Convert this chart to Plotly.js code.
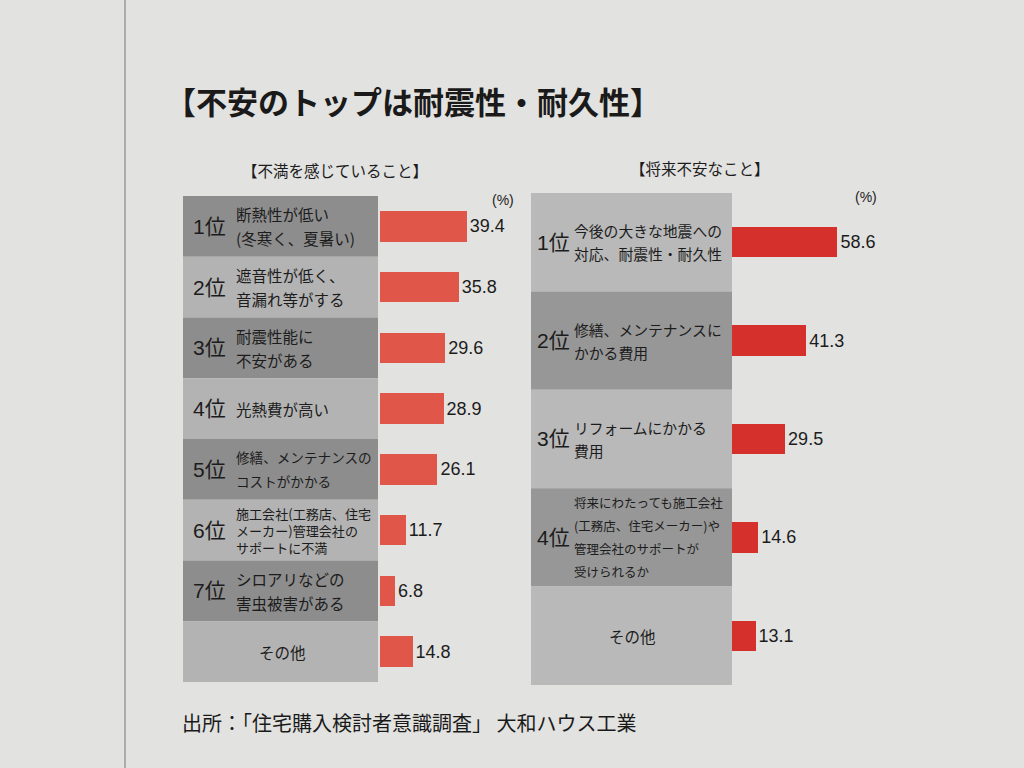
<!DOCTYPE html>
<html>
<head>
<meta charset="utf-8">
<script src="https://cdn.plot.ly/plotly-3.0.1.min.js"></script>
<style>html,body{margin:0;padding:0;background:#e2e2e0;}</style>
</head>
<body>
<div id="chart" style="width:1024px;height:768px;"></div>
<script>
// ---- data ----
const chartTitle = '【不安のトップは耐震性・耐久性】';
const leftTitle = '【不満を感じていること】';
const rightTitle = '【将来不安なこと】';
const unitLabel = '(%)';
const sourceText = '出所：「住宅購入検討者意識調査」 大和ハウス工業';

const leftRanks = ['1位', '2位', '3位', '4位', '5位', '6位', '7位', ''];
const leftItems = [
  ['断熱性が低い', '(冬寒く、夏暑い)'],
  ['遮音性が低く、', '音漏れ等がする'],
  ['耐震性能に', '不安がある'],
  ['光熱費が高い'],
  ['修繕、メンテナンスの', 'コストがかかる'],
  ['施工会社(工務店、住宅', 'メーカー)管理会社の', 'サポートに不満'],
  ['シロアリなどの', '害虫被害がある'],
  ['その他']
];
const leftValues = [39.4, 35.8, 29.6, 28.9, 26.1, 11.7, 6.8, 14.8];

const rightRanks = ['1位', '2位', '3位', '4位', ''];
const rightItems = [
  ['今後の大きな地震への', '対応、耐震性・耐久性'],
  ['修繕、メンテナンスに', 'かかる費用'],
  ['リフォームにかかる', '費用'],
  ['将来にわたっても施工会社', '(工務店、住宅メーカー)や', '管理会社のサポートが', '受けられるか'],
  ['その他']
];
const rightValues = [58.6, 41.3, 29.5, 14.6, 13.1];

// ---- helpers ----
const W = 1024, H = 768;
const px = v => v / W;
const py = v => 1 - v / H;
const CJK = '"Noto Sans CJK JP", sans-serif';
const NUM = '"Liberation Sans", "Noto Sans CJK JP", sans-serif';
const ink = '#1c1c1c';

// width of a text line in em (full-width = 1, ascii = 0.4)
const emLen = s => Array.from(s).reduce((a, ch) => a + (ch.charCodeAt(0) < 256 ? 0.4 : 1), 0);
const fitSize = (lines, base, avail) => Math.min(base, avail / Math.max(...lines.map(emLen)));

const leftCats = leftItems.map(a => a.join(''));
const rightCats = rightItems.map(a => a.join(''));

const traces = [
  {
    type: 'bar', orientation: 'h', x: leftValues, y: leftCats,
    xaxis: 'x', yaxis: 'y', width: 0.5,
    marker: {color: '#e0574a'},
    text: leftValues.map(v => v.toFixed(1)), textposition: 'outside',
    textfont: {family: NUM, size: 18, color: ink},
    constraintext: 'none', cliponaxis: false, hoverinfo: 'skip'
  },
  {
    type: 'bar', orientation: 'h', x: rightValues, y: rightCats,
    xaxis: 'x2', yaxis: 'y2', width: 0.31,
    marker: {color: '#d6302c'},
    text: rightValues.map(v => v.toFixed(1)), textposition: 'outside',
    textfont: {family: NUM, size: 18, color: ink},
    constraintext: 'none', cliponaxis: false, hoverinfo: 'skip'
  }
];

const shapes = [];
const annotations = [];

// left label column
leftCats.forEach((c, i) => {
  shapes.push({type: 'rect', layer: 'below', xref: 'paper', yref: 'y',
    x0: px(183), x1: px(378), y0: i - 0.5, y1: i + 0.5,
    fillcolor: i % 2 === 0 ? '#8d8d8d' : '#b3b3b3', line: {width: 0}});
  const lines = leftItems[i];
  if (leftRanks[i]) {
    annotations.push({xref: 'paper', yref: 'y', x: px(191), y: c, xanchor: 'left',
      text: leftRanks[i], showarrow: false, font: {family: NUM, size: 21, color: ink}});
    const size = fitSize(lines, 15.5, 136);
    if (lines.length > 2) {
      // tightly set block: one annotation, default line spacing
      annotations.push({xref: 'paper', yref: 'y', x: px(235), y: c, xanchor: 'left', align: 'left',
        borderpad: 0, text: lines.join('<br>'), showarrow: false,
        font: {family: CJK, size: size, color: ink}});
    } else {
      const sp = 24;
      lines.forEach((t, k) => {
        annotations.push({xref: 'paper', yref: 'y', x: px(235), y: c, xanchor: 'left',
          yshift: ((lines.length - 1) / 2 - k) * sp, borderpad: 0,
          text: t, showarrow: false, font: {family: CJK, size: size, color: ink}});
      });
    }
  } else {
    annotations.push({xref: 'paper', yref: 'y', x: px(282), y: c, xanchor: 'center',
      text: lines[0], showarrow: false, font: {family: CJK, size: 15.5, color: ink}});
  }
});

// right label column
rightCats.forEach((c, i) => {
  shapes.push({type: 'rect', layer: 'below', xref: 'paper', yref: 'y2',
    x0: px(531), x1: px(732), y0: i - 0.5, y1: i + 0.5,
    fillcolor: i % 2 === 0 ? '#b9b9b9' : '#979797', line: {width: 0}});
  const lines = rightItems[i];
  if (rightRanks[i]) {
    annotations.push({xref: 'paper', yref: 'y2', x: px(535), y: c, xanchor: 'left',
      text: rightRanks[i], showarrow: false, font: {family: NUM, size: 21, color: ink}});
    const size = fitSize(lines, 14.8, 150);
    const sp = 23;
    lines.forEach((t, k) => {
      annotations.push({xref: 'paper', yref: 'y2', x: px(573), y: c, xanchor: 'left',
        yshift: ((lines.length - 1) / 2 - k) * sp, borderpad: 0,
        text: t, showarrow: false, font: {family: CJK, size: size, color: ink}});
    });
  } else {
    annotations.push({xref: 'paper', yref: 'y2', x: px(632), y: c, xanchor: 'center',
      text: lines[0], showarrow: false, font: {family: CJK, size: 15.5, color: ink}});
  }
});

// page edge line
shapes.push({type: 'line', xref: 'paper', yref: 'paper', x0: px(125), x1: px(125), y0: 0, y1: 1,
  line: {color: '#9a9a9a', width: 1.5}});

// titles and notes
annotations.push(
  {xref: 'paper', yref: 'paper', x: px(163), y: py(100), xanchor: 'left', yanchor: 'middle',
    text: chartTitle, showarrow: false, font: {family: CJK, size: 31, color: '#1a1a1a', weight: 700}},
  {xref: 'paper', yref: 'paper', x: px(335), y: py(170), xanchor: 'center', yanchor: 'middle',
    text: leftTitle, showarrow: false, font: {family: CJK, size: 15.5, color: ink}},
  {xref: 'paper', yref: 'paper', x: px(700), y: py(168), xanchor: 'center', yanchor: 'middle',
    text: rightTitle, showarrow: false, font: {family: CJK, size: 15.5, color: ink}},
  {xref: 'paper', yref: 'paper', x: px(503), y: py(200), xanchor: 'center', yanchor: 'middle',
    text: unitLabel, showarrow: false, font: {family: NUM, size: 14, color: ink}},
  {xref: 'paper', yref: 'paper', x: px(866), y: py(197), xanchor: 'center', yanchor: 'middle',
    text: unitLabel, showarrow: false, font: {family: NUM, size: 14, color: ink}},
  {xref: 'paper', yref: 'paper', x: px(180), y: py(722), xanchor: 'left', yanchor: 'middle',
    text: sourceText, showarrow: false, font: {family: CJK, size: 20, color: '#1a1a1a'}}
);

const hidden = {showgrid: false, zeroline: false, showticklabels: false, showline: false, ticks: ''};

const layout = {
  width: W, height: H,
  margin: {l: 0, r: 0, t: 0, b: 0},
  paper_bgcolor: '#e2e2e0', plot_bgcolor: 'rgba(0,0,0,0)',
  showlegend: false,
  xaxis: Object.assign({domain: [px(380), px(525)], range: [0, 145 / 2.2], anchor: 'y', fixedrange: true}, hidden),
  yaxis: Object.assign({domain: [py(682), py(196)], type: 'category', autorange: 'reversed', anchor: 'x', fixedrange: true}, hidden),
  xaxis2: Object.assign({domain: [px(732), px(900)], range: [0, 168 / 1.8], anchor: 'y2', fixedrange: true}, hidden),
  yaxis2: Object.assign({domain: [py(685), py(193)], type: 'category', autorange: 'reversed', anchor: 'x2', fixedrange: true}, hidden),
  shapes: shapes,
  annotations: annotations,
  bargap: 0
};

Plotly.newPlot('chart', traces, layout, {staticPlot: true, displayModeBar: false});
</script>
</body>
</html>
